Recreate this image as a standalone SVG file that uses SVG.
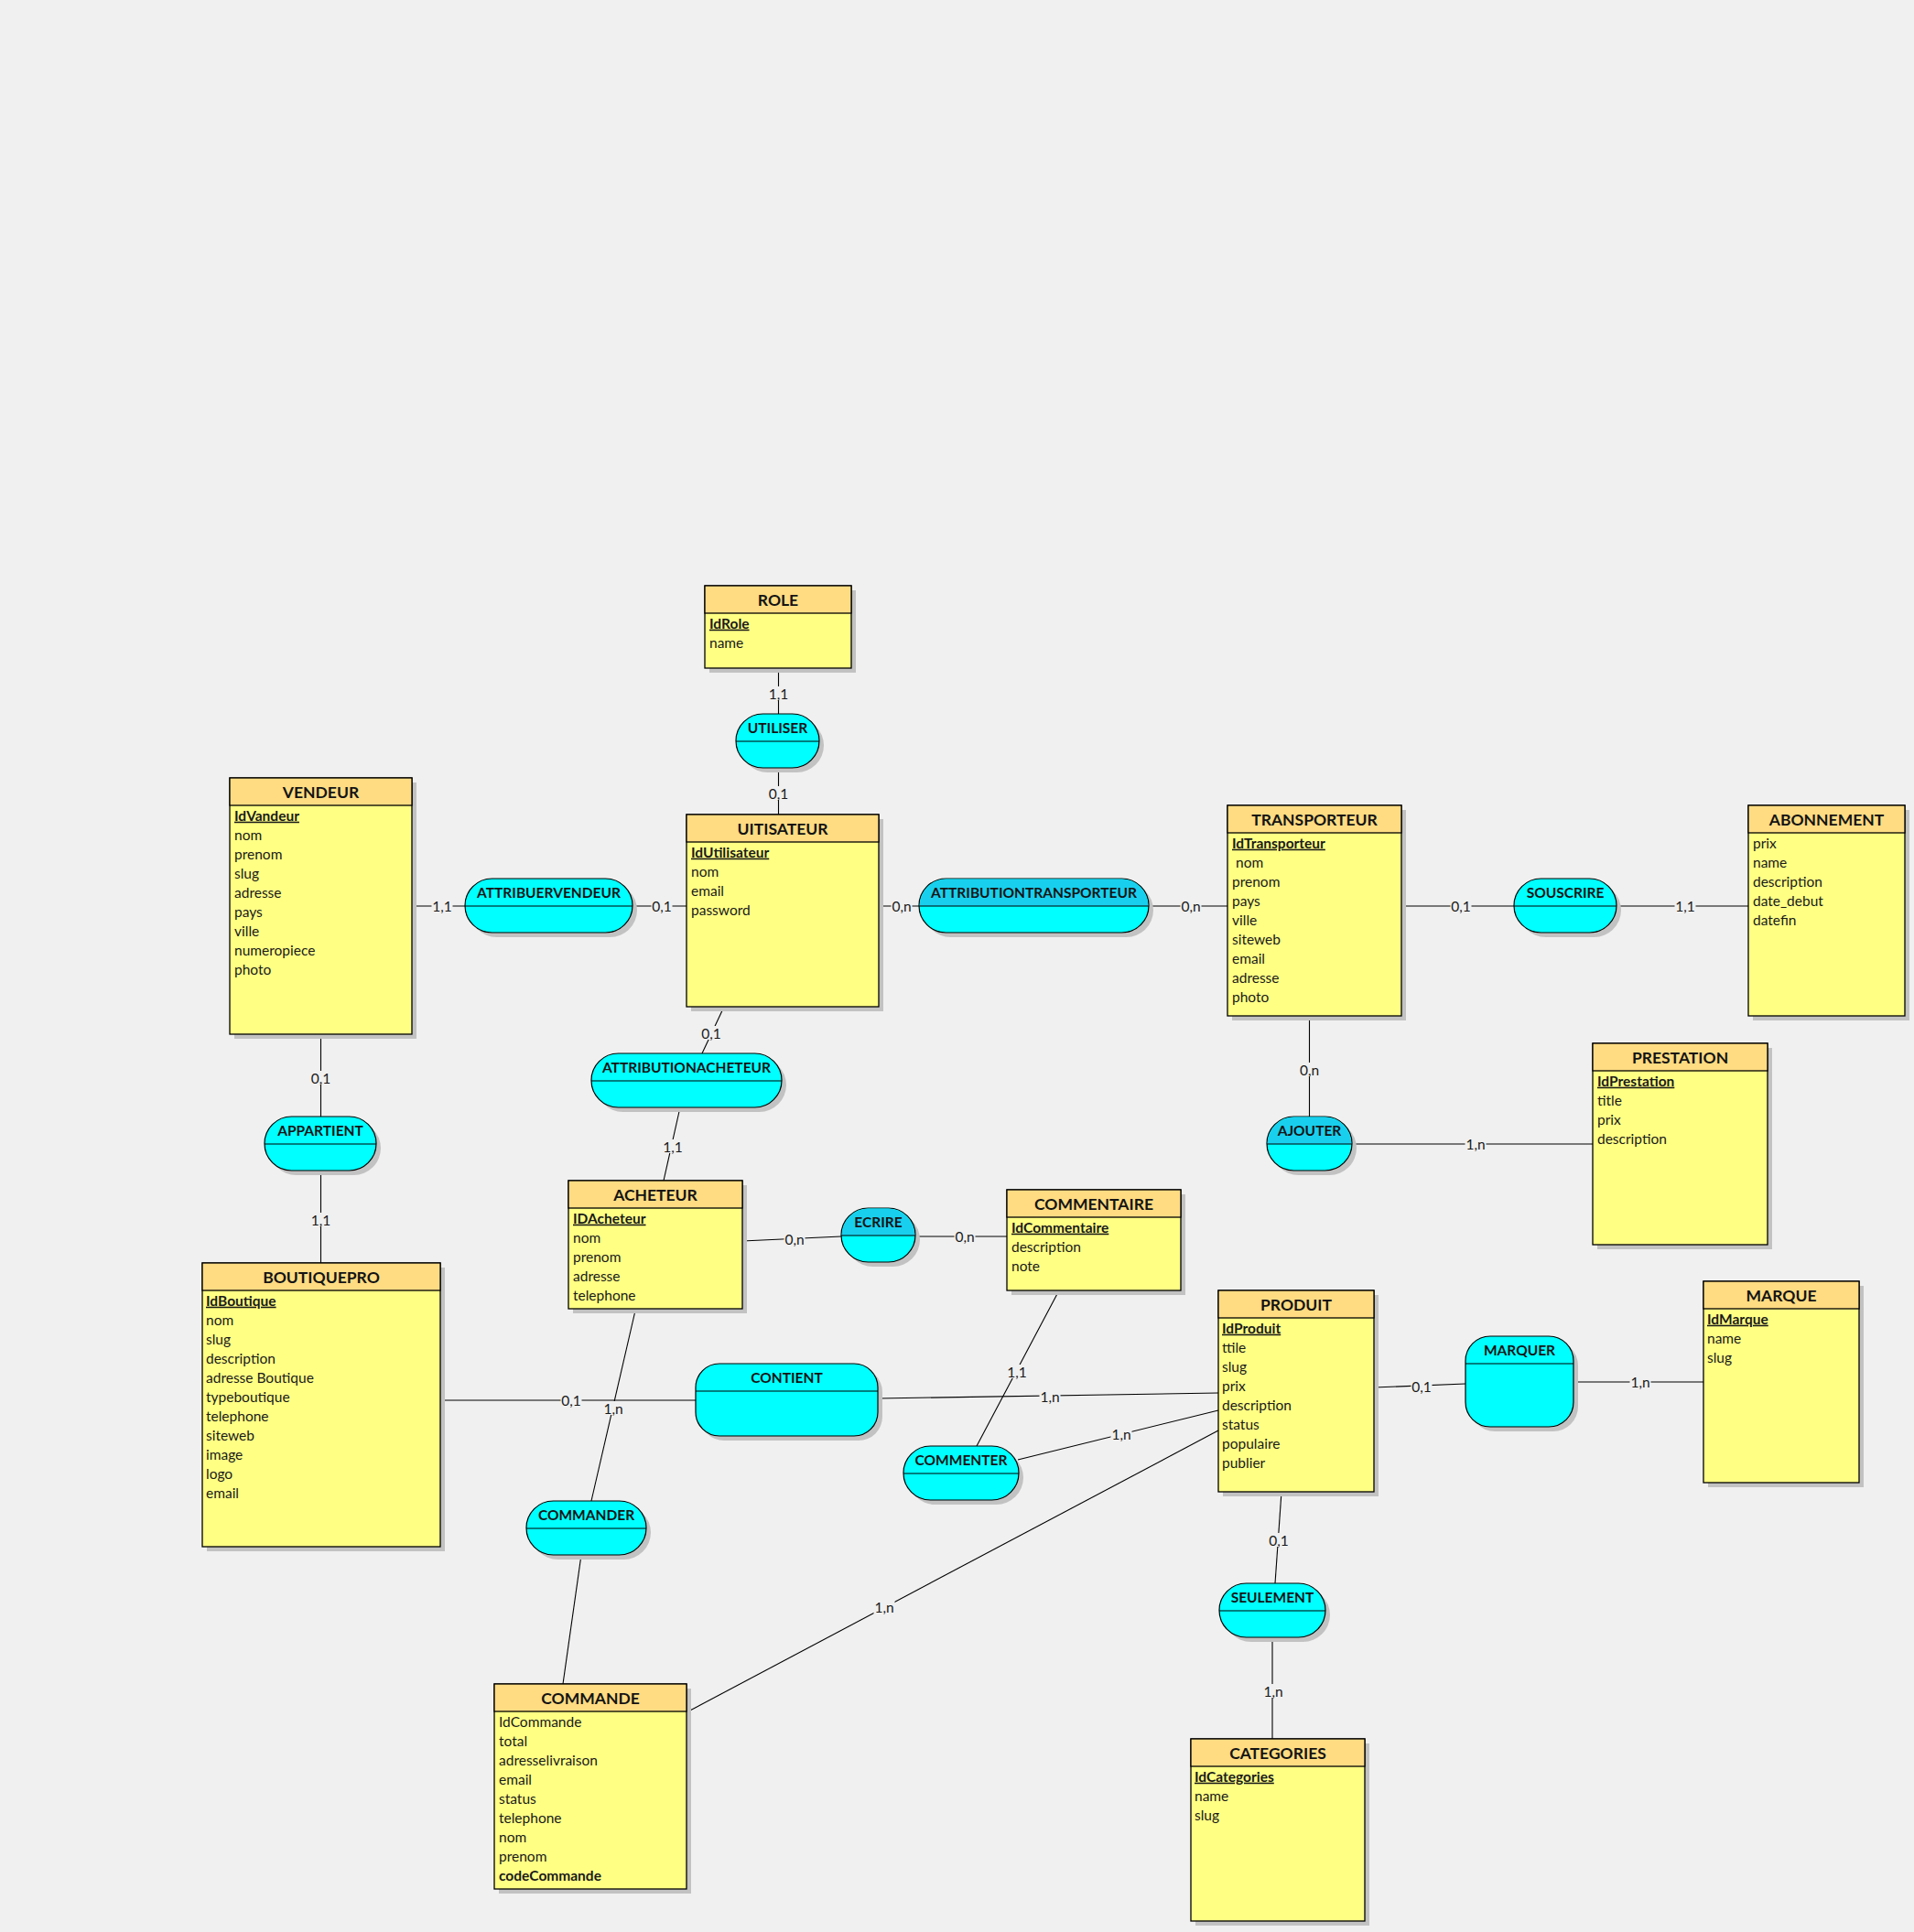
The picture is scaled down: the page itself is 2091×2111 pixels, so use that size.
<svg xmlns="http://www.w3.org/2000/svg" width="2091" height="2111" viewBox="0 0 2091 2111">
<style>
.bg{fill:#f0f0f0}
.sh{fill:#c2c2c2}
.eb{fill:#ffff84;stroke:#000;stroke-width:1.3}
.eh{fill:#ffdc82;stroke:#000;stroke-width:1.3}
.rel{fill:#00ffff;stroke:#000;stroke-width:1.2}
.reltop{fill:#18d0ee}
.div{stroke:#000;stroke-width:1.2}
.t{font-family:Lato,"Open Sans",sans-serif;font-weight:bold;font-size:17.5px;fill:#141414;text-anchor:middle}
.a{font-family:Lato,"Open Sans",sans-serif;font-size:15.5px;fill:#1a1a1a}
.pk{font-weight:bold;text-decoration:underline}
.b{font-weight:bold}
.rl{font-family:Lato,"Open Sans",sans-serif;font-weight:bold;font-size:15.5px;fill:#141414;text-anchor:middle}
.c{font-family:Lato,"Open Sans",sans-serif;font-size:15.5px;fill:#1a1a1a;text-anchor:middle}
.cb{fill:#f0f0f0}
.ln{stroke:#000;stroke-width:1.1;fill:none}
</style>
<defs>
<rect id="lb" class="cb" x="-11.5" y="-8" width="23" height="15"/>
</defs>
<rect class="bg" x="0" y="0" width="2091" height="2111"/>

<g id="connectors">
<line class="ln" x1="850.5" y1="730" x2="850.5" y2="780"/>
<line class="ln" x1="850.5" y1="839" x2="850.5" y2="890"/>
<line class="ln" x1="450" y1="990" x2="508" y2="990"/>
<line class="ln" x1="691" y1="990" x2="750" y2="990"/>
<line class="ln" x1="960" y1="990" x2="1004" y2="990"/>
<line class="ln" x1="1255" y1="990" x2="1341" y2="990"/>
<line class="ln" x1="1531" y1="990" x2="1654" y2="990"/>
<line class="ln" x1="1766" y1="990" x2="1910" y2="990"/>
<line class="ln" x1="1430.5" y1="1110" x2="1430.5" y2="1220"/>
<line class="ln" x1="1477" y1="1250" x2="1740" y2="1250"/>
<line class="ln" x1="350.5" y1="1130" x2="350.5" y2="1220"/>
<line class="ln" x1="350.5" y1="1279" x2="350.5" y2="1380"/>
<line class="ln" x1="791" y1="1100" x2="767" y2="1151"/>
<line class="ln" x1="743" y1="1210" x2="725" y2="1290"/>
<line class="ln" x1="811" y1="1356" x2="919" y2="1351"/>
<line class="ln" x1="1000" y1="1351" x2="1100" y2="1351"/>
<line class="ln" x1="1157" y1="1410" x2="1067" y2="1580"/>
<line class="ln" x1="481" y1="1530" x2="760" y2="1530"/>
<line class="ln" x1="959" y1="1528" x2="1331" y2="1522"/>
<line class="ln" x1="1112" y1="1595" x2="1331" y2="1541"/>
<line class="ln" x1="694.5" y1="1430" x2="646" y2="1640"/>
<line class="ln" x1="635" y1="1699" x2="615" y2="1840"/>
<line class="ln" x1="1331" y1="1563" x2="750" y2="1871"/>
<line class="ln" x1="1501" y1="1516" x2="1601" y2="1512"/>
<line class="ln" x1="1719" y1="1510" x2="1861" y2="1510"/>
<line class="ln" x1="1400" y1="1630" x2="1393" y2="1730"/>
<line class="ln" x1="1390" y1="1789" x2="1390" y2="1900"/>
<use href="#lb" x="850.5" y="758"/><text class="c" x="850.5" y="763.5">1,1</text>
<use href="#lb" x="850.5" y="867"/><text class="c" x="850.5" y="872.5">0,1</text>
<use href="#lb" x="483" y="990"/><text class="c" x="483" y="995.5">1,1</text>
<use href="#lb" x="723" y="990"/><text class="c" x="723" y="995.5">0,1</text>
<use href="#lb" x="985" y="990"/><text class="c" x="985" y="995.5">0,n</text>
<use href="#lb" x="1301" y="990"/><text class="c" x="1301" y="995.5">0,n</text>
<use href="#lb" x="1596" y="990"/><text class="c" x="1596" y="995.5">0,1</text>
<use href="#lb" x="1841" y="990"/><text class="c" x="1841" y="995.5">1,1</text>
<use href="#lb" x="1430.5" y="1169"/><text class="c" x="1430.5" y="1174.5">0,n</text>
<use href="#lb" x="1612" y="1250"/><text class="c" x="1612" y="1255.5">1,n</text>
<use href="#lb" x="350.5" y="1178"/><text class="c" x="350.5" y="1183.5">0,1</text>
<use href="#lb" x="350.5" y="1333"/><text class="c" x="350.5" y="1338.5">1,1</text>
<use href="#lb" x="777" y="1129"/><text class="c" x="777" y="1134.5">0,1</text>
<use href="#lb" x="735" y="1253"/><text class="c" x="735" y="1258.5">1,1</text>
<use href="#lb" x="868" y="1354"/><text class="c" x="868" y="1359.5">0,n</text>
<use href="#lb" x="1054" y="1351"/><text class="c" x="1054" y="1356.5">0,n</text>
<use href="#lb" x="1111" y="1499"/><text class="c" x="1111" y="1504.5">1,1</text>
<use href="#lb" x="624" y="1530"/><text class="c" x="624" y="1535.5">0,1</text>
<use href="#lb" x="1147" y="1526"/><text class="c" x="1147" y="1531.5">1,n</text>
<use href="#lb" x="1225" y="1567"/><text class="c" x="1225" y="1572.5">1,n</text>
<use href="#lb" x="670" y="1539"/><text class="c" x="670" y="1544.5">1,n</text>
<use href="#lb" x="966" y="1756.5"/><text class="c" x="966" y="1762">1,n</text>
<use href="#lb" x="1553" y="1515"/><text class="c" x="1553" y="1520.5">0,1</text>
<use href="#lb" x="1792" y="1510"/><text class="c" x="1792" y="1515.5">1,n</text>
<use href="#lb" x="1397" y="1683"/><text class="c" x="1397" y="1688.5">0,1</text>
<use href="#lb" x="1391" y="1848"/><text class="c" x="1391" y="1853.5">1,n</text>
</g>

<!-- Entities -->
<g id="ROLE">
<rect class="sh" x="775" y="645" width="160" height="90"/>
<rect class="eb" x="770" y="640" width="160" height="90"/>
<rect class="eh" x="770" y="640" width="160" height="30"/>
<text class="t" x="850" y="661.5">ROLE</text>
<text class="a"><tspan class="pk" x="775" y="686.7">IdRole</tspan><tspan x="775" y="707.7">name</tspan></text>
</g>

<g id="VENDEUR">
<rect class="sh" x="256" y="855" width="199" height="280"/>
<rect class="eb" x="251" y="850" width="199" height="280"/>
<rect class="eh" x="251" y="850" width="199" height="30"/>
<text class="t" x="350.5" y="871.5">VENDEUR</text>
<text class="a"><tspan class="pk" x="256" y="896.7">IdVandeur</tspan><tspan x="256" y="917.7">nom</tspan><tspan x="256" y="938.7">prenom</tspan><tspan x="256" y="959.7">slug</tspan><tspan x="256" y="980.7">adresse</tspan><tspan x="256" y="1001.7">pays</tspan><tspan x="256" y="1022.7">ville</tspan><tspan x="256" y="1043.7">numeropiece</tspan><tspan x="256" y="1064.7">photo</tspan></text>
</g>

<g id="UITISATEUR">
<rect class="sh" x="755" y="895" width="210" height="210"/>
<rect class="eb" x="750" y="890" width="210" height="210"/>
<rect class="eh" x="750" y="890" width="210" height="30"/>
<text class="t" x="855" y="911.5">UITISATEUR</text>
<text class="a"><tspan class="pk" x="755" y="936.7">IdUtilisateur</tspan><tspan x="755" y="957.7">nom</tspan><tspan x="755" y="978.7">email</tspan><tspan x="755" y="999.7">password</tspan></text>
</g>

<g id="TRANSPORTEUR">
<rect class="sh" x="1346" y="885" width="190" height="230"/>
<rect class="eb" x="1341" y="880" width="190" height="230"/>
<rect class="eh" x="1341" y="880" width="190" height="30"/>
<text class="t" x="1436" y="901.5">TRANSPORTEUR</text>
<text class="a"><tspan class="pk" x="1346" y="926.7">IdTransporteur</tspan><tspan x="1350" y="947.7">nom</tspan><tspan x="1346" y="968.7">prenom</tspan><tspan x="1346" y="989.7">pays</tspan><tspan x="1346" y="1010.7">ville</tspan><tspan x="1346" y="1031.7">siteweb</tspan><tspan x="1346" y="1052.7">email</tspan><tspan x="1346" y="1073.7">adresse</tspan><tspan x="1346" y="1094.7">photo</tspan></text>
</g>

<g id="ABONNEMENT">
<rect class="sh" x="1915" y="885" width="171" height="230"/>
<rect class="eb" x="1910" y="880" width="171" height="230"/>
<rect class="eh" x="1910" y="880" width="171" height="30"/>
<text class="t" x="1995.5" y="901.5">ABONNEMENT</text>
<text class="a"><tspan x="1915" y="926.7">prix</tspan><tspan x="1915" y="947.7">name</tspan><tspan x="1915" y="968.7">description</tspan><tspan x="1915" y="989.7">date_debut</tspan><tspan x="1915" y="1010.7">datefin</tspan></text>
</g>

<g id="PRESTATION">
<rect class="sh" x="1745" y="1145" width="191" height="220"/>
<rect class="eb" x="1740" y="1140" width="191" height="220"/>
<rect class="eh" x="1740" y="1140" width="191" height="30"/>
<text class="t" x="1835.5" y="1161.5">PRESTATION</text>
<text class="a"><tspan class="pk" x="1745" y="1186.7">IdPrestation</tspan><tspan x="1745" y="1207.7">title</tspan><tspan x="1745" y="1228.7">prix</tspan><tspan x="1745" y="1249.7">description</tspan></text>
</g>

<g id="ACHETEUR">
<rect class="sh" x="626" y="1295" width="190" height="140"/>
<rect class="eb" x="621" y="1290" width="190" height="140"/>
<rect class="eh" x="621" y="1290" width="190" height="30"/>
<text class="t" x="716" y="1311.5">ACHETEUR</text>
<text class="a"><tspan class="pk" x="626" y="1336.7">IDAcheteur</tspan><tspan x="626" y="1357.7">nom</tspan><tspan x="626" y="1378.7">prenom</tspan><tspan x="626" y="1399.7">adresse</tspan><tspan x="626" y="1420.7">telephone</tspan></text>
</g>

<g id="COMMENTAIRE">
<rect class="sh" x="1105" y="1305" width="190" height="110"/>
<rect class="eb" x="1100" y="1300" width="190" height="110"/>
<rect class="eh" x="1100" y="1300" width="190" height="30"/>
<text class="t" x="1195" y="1321.5">COMMENTAIRE</text>
<text class="a"><tspan class="pk" x="1105" y="1346.7">IdCommentaire</tspan><tspan x="1105" y="1367.7">description</tspan><tspan x="1105" y="1388.7">note</tspan></text>
</g>

<g id="BOUTIQUEPRO">
<rect class="sh" x="226" y="1385" width="260" height="310"/>
<rect class="eb" x="221" y="1380" width="260" height="310"/>
<rect class="eh" x="221" y="1380" width="260" height="30"/>
<text class="t" x="351" y="1401.5">BOUTIQUEPRO</text>
<text class="a"><tspan class="pk" x="225" y="1426.7">IdBoutique</tspan><tspan x="225" y="1447.7">nom</tspan><tspan x="225" y="1468.7">slug</tspan><tspan x="225" y="1489.7">description</tspan><tspan x="225" y="1510.7">adresse Boutique</tspan><tspan x="225" y="1531.7">typeboutique</tspan><tspan x="225" y="1552.7">telephone</tspan><tspan x="225" y="1573.7">siteweb</tspan><tspan x="225" y="1594.7">image</tspan><tspan x="225" y="1615.7">logo</tspan><tspan x="225" y="1636.7">email</tspan></text>
</g>

<g id="PRODUIT">
<rect class="sh" x="1336" y="1415" width="170" height="220"/>
<rect class="eb" x="1331" y="1410" width="170" height="220"/>
<rect class="eh" x="1331" y="1410" width="170" height="30"/>
<text class="t" x="1416" y="1431.5">PRODUIT</text>
<text class="a"><tspan class="pk" x="1335" y="1456.7">IdProduit</tspan><tspan x="1335" y="1477.7">ttile</tspan><tspan x="1335" y="1498.7">slug</tspan><tspan x="1335" y="1519.7">prix</tspan><tspan x="1335" y="1540.7">description</tspan><tspan x="1335" y="1561.7">status</tspan><tspan x="1335" y="1582.7">populaire</tspan><tspan x="1335" y="1603.7">publier</tspan></text>
</g>

<g id="MARQUE">
<rect class="sh" x="1866" y="1405" width="170" height="220"/>
<rect class="eb" x="1861" y="1400" width="170" height="220"/>
<rect class="eh" x="1861" y="1400" width="170" height="30"/>
<text class="t" x="1946" y="1421.5">MARQUE</text>
<text class="a"><tspan class="pk" x="1865" y="1446.7">IdMarque</tspan><tspan x="1865" y="1467.7">name</tspan><tspan x="1865" y="1488.7">slug</tspan></text>
</g>

<g id="COMMANDE">
<rect class="sh" x="545" y="1845" width="210" height="224"/>
<rect class="eb" x="540" y="1840" width="210" height="224"/>
<rect class="eh" x="540" y="1840" width="210" height="30"/>
<text class="t" x="645" y="1861.5">COMMANDE</text>
<text class="a"><tspan x="545" y="1886.7">IdCommande</tspan><tspan x="545" y="1907.7">total</tspan><tspan x="545" y="1928.7">adresselivraison</tspan><tspan x="545" y="1949.7">email</tspan><tspan x="545" y="1970.7">status</tspan><tspan x="545" y="1991.7">telephone</tspan><tspan x="545" y="2012.7">nom</tspan><tspan x="545" y="2033.7">prenom</tspan><tspan class="b" x="545" y="2054.7">codeCommande</tspan></text>
</g>

<g id="CATEGORIES">
<rect class="sh" x="1306" y="1905" width="190" height="199"/>
<rect class="eb" x="1301" y="1900" width="190" height="199"/>
<rect class="eh" x="1301" y="1900" width="190" height="30"/>
<text class="t" x="1396" y="1921.5">CATEGORIES</text>
<text class="a"><tspan class="pk" x="1305" y="1946.7">IdCategories</tspan><tspan x="1305" y="1967.7">name</tspan><tspan x="1305" y="1988.7">slug</tspan></text>
</g>

<!-- Relationships -->
<g id="UTILISER">
<rect class="sh" x="809" y="785" width="91" height="59" rx="29.5"/>
<rect class="rel" x="804" y="780" width="91" height="59" rx="29.5"/>
<line class="div" x1="804" y1="810" x2="895" y2="810"/>
<text class="rl" x="849.5" y="801">UTILISER</text>
</g>

<g id="ATTRIBUERVENDEUR">
<rect class="sh" x="513" y="965" width="183" height="59" rx="29.5"/>
<rect class="rel" x="508" y="960" width="183" height="59" rx="29.5"/>
<line class="div" x1="508" y1="990" x2="691" y2="990"/>
<text class="rl" x="599.5" y="981">ATTRIBUERVENDEUR</text>
</g>

<g id="ATTRIBUTIONTRANSPORTEUR">
<rect class="sh" x="1009" y="965" width="251" height="59" rx="29.5"/>
<rect class="rel" x="1004" y="960" width="251" height="59" rx="29.5"/>
<path class="reltop" d="M1004.6,990 A29.5,29.5 0 0 1 1033.5,960.6 H1225.5 A29.5,29.5 0 0 1 1254.4,990 Z"/>
<line class="div" x1="1004" y1="990" x2="1255" y2="990"/>
<text class="rl" x="1129.5" y="981">ATTRIBUTIONTRANSPORTEUR</text>
</g>

<g id="SOUSCRIRE">
<rect class="sh" x="1659" y="965" width="112" height="59" rx="29.5"/>
<rect class="rel" x="1654" y="960" width="112" height="59" rx="29.5"/>
<line class="div" x1="1654" y1="990" x2="1766" y2="990"/>
<text class="rl" x="1710" y="981">SOUSCRIRE</text>
</g>

<g id="ATTRIBUTIONACHETEUR">
<rect class="sh" x="651" y="1156" width="208" height="59" rx="29.5"/>
<rect class="rel" x="646" y="1151" width="208" height="59" rx="29.5"/>
<line class="div" x1="646" y1="1181" x2="854" y2="1181"/>
<text class="rl" x="750" y="1172">ATTRIBUTIONACHETEUR</text>
</g>

<g id="APPARTIENT">
<rect class="sh" x="294" y="1225" width="122" height="59" rx="29.5"/>
<rect class="rel" x="289" y="1220" width="122" height="59" rx="29.5"/>
<line class="div" x1="289" y1="1250" x2="411" y2="1250"/>
<text class="rl" x="350" y="1241">APPARTIENT</text>
</g>

<g id="AJOUTER">
<rect class="sh" x="1389" y="1225" width="93" height="59" rx="29.5"/>
<rect class="rel" x="1384" y="1220" width="93" height="59" rx="29.5"/>
<path class="reltop" d="M1384.6,1250 A29.5,29.5 0 0 1 1413.5,1220.6 H1447.5 A29.5,29.5 0 0 1 1476.4,1250 Z"/>
<line class="div" x1="1384" y1="1250" x2="1477" y2="1250"/>
<text class="rl" x="1430.5" y="1241">AJOUTER</text>
</g>

<g id="ECRIRE">
<rect class="sh" x="924" y="1325" width="81" height="59" rx="29.5"/>
<rect class="rel" x="919" y="1320" width="81" height="59" rx="29.5"/>
<path class="reltop" d="M919.6,1350 A29.5,29.5 0 0 1 948.5,1320.6 H970.5 A29.5,29.5 0 0 1 999.4,1350 Z"/>
<line class="div" x1="919" y1="1350" x2="1000" y2="1350"/>
<text class="rl" x="959.5" y="1341">ECRIRE</text>
</g>

<g id="CONTIENT">
<rect class="sh" x="765" y="1495" width="199" height="79" rx="26"/>
<rect class="rel" x="760" y="1490" width="199" height="79" rx="26"/>
<line class="div" x1="760" y1="1520" x2="959" y2="1520"/>
<text class="rl" x="859.5" y="1511">CONTIENT</text>
</g>

<g id="COMMENTER">
<rect class="sh" x="992" y="1585" width="126" height="59" rx="29.5"/>
<rect class="rel" x="987" y="1580" width="126" height="59" rx="29.5"/>
<line class="div" x1="987" y1="1610" x2="1113" y2="1610"/>
<text class="rl" x="1050" y="1601">COMMENTER</text>
</g>

<g id="MARQUER">
<rect class="sh" x="1606" y="1465" width="118" height="99" rx="27"/>
<rect class="rel" x="1601" y="1460" width="118" height="99" rx="27"/>
<line class="div" x1="1601" y1="1490" x2="1719" y2="1490"/>
<text class="rl" x="1660" y="1481">MARQUER</text>
</g>

<g id="COMMANDER">
<rect class="sh" x="580" y="1645" width="131" height="59" rx="29.5"/>
<rect class="rel" x="575" y="1640" width="131" height="59" rx="29.5"/>
<line class="div" x1="575" y1="1670" x2="706" y2="1670"/>
<text class="rl" x="640.5" y="1661">COMMANDER</text>
</g>

<g id="SEULEMENT">
<rect class="sh" x="1337" y="1735" width="116" height="59" rx="29.5"/>
<rect class="rel" x="1332" y="1730" width="116" height="59" rx="29.5"/>
<line class="div" x1="1332" y1="1760" x2="1448" y2="1760"/>
<text class="rl" x="1390" y="1751">SEULEMENT</text>
</g>
</svg>
